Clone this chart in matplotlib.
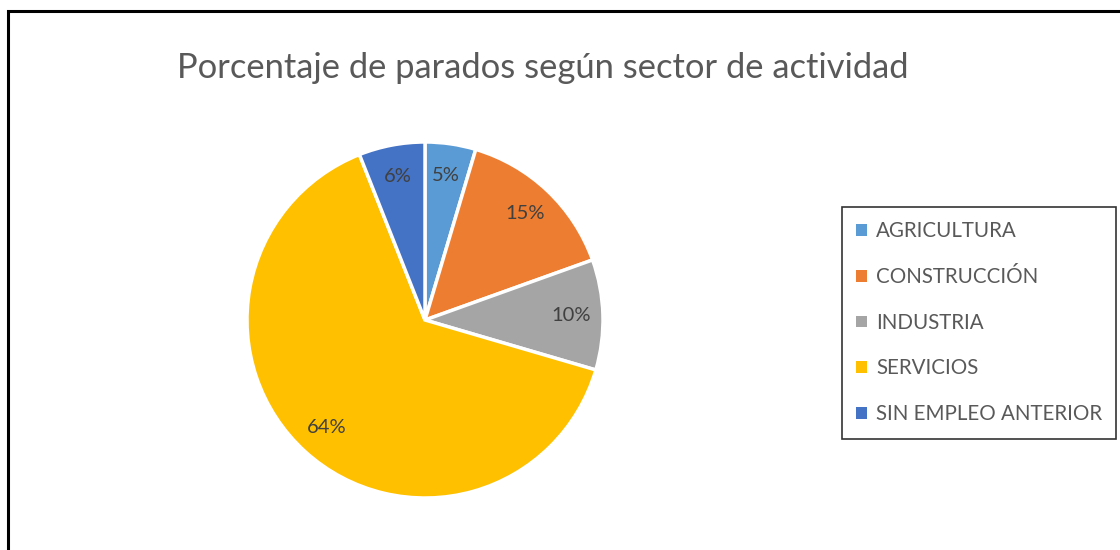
import matplotlib
matplotlib.use("Agg")
import matplotlib.pyplot as plt
from matplotlib.patches import Rectangle, Patch

plt.rcParams['font.family'] = ['Lato', 'DejaVu Sans']

sectores = ['AGRICULTURA', 'CONSTRUCCIÓN', 'INDUSTRIA', 'SERVICIOS', 'SIN EMPLEO ANTERIOR']
porcentajes = [4.6, 14.9, 10.0, 64.4, 6.0]
colores = ['#5B9BD5', '#ED7D31', '#A5A5A5', '#FFC000', '#4472C4']
titulo = 'Porcentaje de parados según sector de actividad'

W, H = 1120, 550
fig = plt.figure(figsize=(W / 100, H / 100), dpi=100)

# chart frame (cut off on the right and bottom in the original)
fig.patches.append(Rectangle((8 / W, -0.1), 1.2, 1 - 11 / H + 0.1, transform=fig.transFigure,
                             fill=False, edgecolor='black', linewidth=2.2, clip_on=False))

cx, cy, r = 425, 320, 178
ax = fig.add_axes([(cx - r) / W, (H - cy - r) / H, 2 * r / W, 2 * r / H])
wedges, texts, autotexts = ax.pie(porcentajes, colors=colores, startangle=90, counterclock=False,
                                  autopct='%.0f%%', pctdistance=0.82,
                                  wedgeprops=dict(edgecolor='white', linewidth=2.5),
                                  textprops=dict(color='#404040', fontsize=14.5))
ax.set_xlim(-1, 1)
ax.set_ylim(-1, 1)
ax.set_aspect('equal')

fig.text(543 / W, 1 - 68 / H, titulo, ha='center', va='center', fontsize=24.8, color='#595959')

handles = [Patch(facecolor=c, edgecolor='none') for c in colores]
leg = fig.legend(handles, sectores, loc='upper left', bbox_to_anchor=(842 / W, 1 - 207 / H),
                 frameon=True, fancybox=False, edgecolor='black', fontsize=14.8,
                 handlelength=0.5, handleheight=0.5, handletextpad=0.45,
                 labelspacing=1.25, borderpad=0.7, borderaxespad=0)
leg.get_frame().set_linewidth(1.2)
for t in leg.get_texts():
    t.set_color('#595959')

fig.savefig('out.png', dpi=100)
